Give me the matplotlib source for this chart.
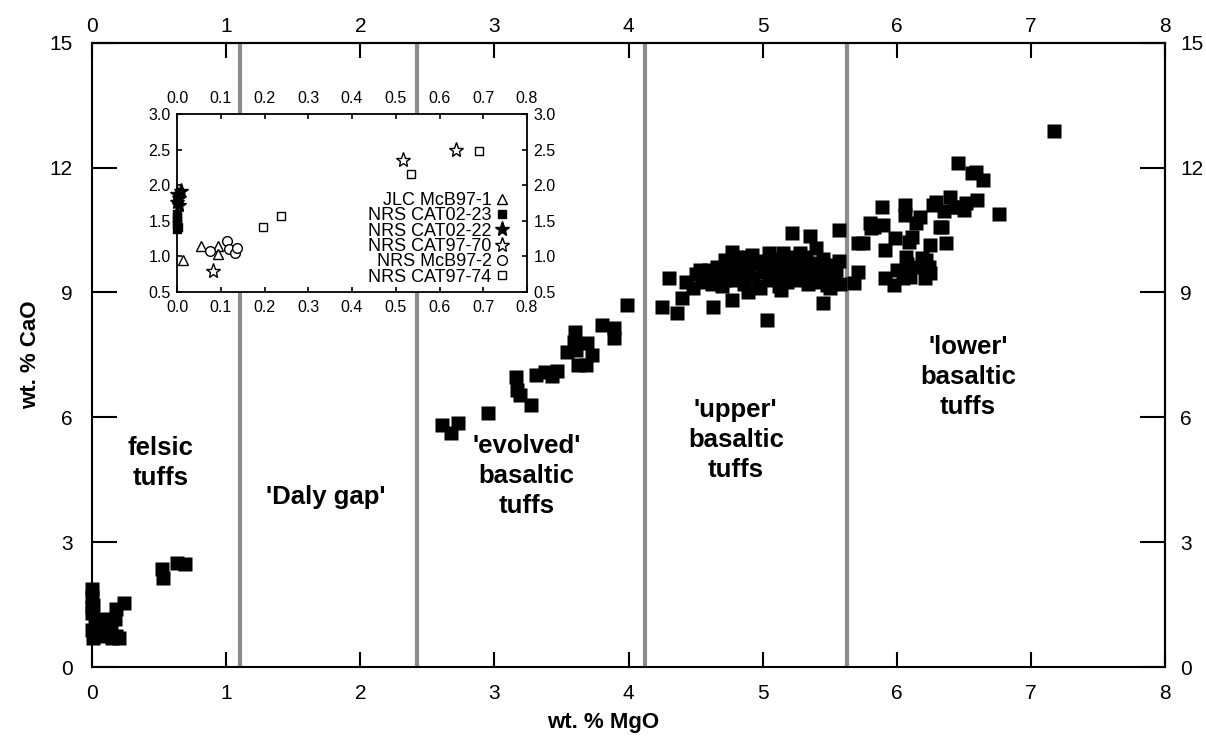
import matplotlib
matplotlib.use("Agg")
import matplotlib.pyplot as plt

plt.rcParams['font.family'] = ['Liberation Sans', 'DejaVu Sans']

# ---------------- main data (wt.% MgO, wt.% CaO) ----------------
felsic_mgo = [0.00, 0.00, 0.01, 0.00, 0.02, 0.00, 0.01, 0.05, 0.08, 0.10, 0.12, 0.15, 0.18, 0.20,
              0.06, 0.03, 0.14, 0.17, 0.18, 0.235, 0.52, 0.53, 0.63, 0.69, 0.00, 0.09]
felsic_cao = [1.88, 1.70, 1.50, 1.30, 1.10, 0.90, 0.70, 0.80, 0.75, 1.00, 0.85, 0.70, 0.75, 0.70,
              1.10, 0.95, 0.95, 1.15, 1.39, 1.54, 2.35, 2.15, 2.51, 2.49, 1.45, 1.15]

evolved_mgo = [3.99, 3.80, 3.89, 3.89, 3.60, 3.59, 3.69, 3.54, 3.61, 3.73, 3.62, 3.68,
               3.16, 3.31, 3.38, 3.43, 3.47, 3.17, 3.19, 3.27, 2.95, 2.61, 2.73, 2.68]
evolved_cao = [8.70, 8.22, 8.14, 7.90, 8.05, 7.81, 7.78, 7.57, 7.61, 7.49, 7.25, 7.25,
               6.97, 7.03, 7.09, 6.99, 7.12, 6.65, 6.53, 6.29, 6.10, 5.81, 5.86, 5.62]

upper_mgo = [4.25, 4.30, 4.36, 4.40, 4.43, 4.48, 4.53, 4.58, 4.63, 4.66, 4.72, 4.72, 4.77, 4.77,
             4.89, 4.89, 5.03, 5.14, 5.15, 5.22, 5.35, 5.40, 5.45, 5.48, 5.57,
             4.50, 4.55, 4.60, 4.62, 4.68, 4.70, 4.75, 4.78, 4.82, 4.84, 4.86, 4.90, 4.93, 4.95,
             4.97, 5.00, 5.02, 5.05, 5.08, 5.10, 5.12, 5.16, 5.18, 5.20, 5.22, 5.25, 5.27, 5.30,
             5.32, 5.35, 5.38, 5.40, 5.42, 5.45, 5.48, 5.50, 5.53, 5.55, 5.57, 4.80, 4.92, 5.05,
             5.28, 4.65, 5.58, 5.50, 4.98, 5.12, 5.34]
upper_cao = [8.64, 9.34, 8.51, 8.86, 9.24, 9.10, 9.53, 9.37, 8.64, 9.61, 9.77, 9.30, 8.81, 9.97,
             9.85, 9.01, 8.35, 9.05, 9.94, 10.42, 10.35, 10.06, 8.74, 9.17, 10.50,
             9.45, 9.25, 9.55, 9.20, 9.45, 9.15, 9.55, 9.30, 9.65, 9.40, 9.20, 9.55, 9.35, 9.70,
             9.15, 9.50, 9.75, 9.30, 9.60, 9.80, 9.40, 9.65, 9.25, 9.85, 9.50, 9.70, 9.30, 9.60,
             9.85, 9.45, 9.70, 9.25, 9.55, 9.80, 9.45, 9.65, 9.35, 9.55, 9.75, 9.85, 9.90, 9.95,
             9.95, 9.35, 9.20, 9.10, 9.10, 9.15, 9.20]

lower_mgo = [7.17, 6.46, 6.56, 6.64, 6.59, 6.76, 5.89, 6.06, 6.06, 6.14, 6.29, 6.40, 6.43, 6.50,
             6.60, 6.34, 6.37, 5.81, 5.90, 5.75, 5.91, 5.99, 6.09, 6.07, 6.19, 6.25, 6.24, 6.21,
             5.91, 5.98, 6.05, 6.10, 5.71, 5.68, 5.71, 5.80, 5.83, 6.11, 6.22, 6.08, 6.25, 6.17,
             6.27, 6.32, 6.45, 6.52, 6.35, 6.00, 6.15]
lower_cao = [12.87, 12.10, 11.86, 11.71, 11.89, 10.88, 11.04, 11.09, 10.85, 10.66, 11.17, 11.29,
             11.05, 10.97, 11.21, 10.57, 10.19, 10.54, 10.61, 10.18, 10.01, 10.30, 10.21, 9.85,
             9.82, 10.13, 9.61, 9.34, 9.34, 9.17, 9.34, 9.37, 9.49, 9.23, 10.18, 10.66, 10.57,
             10.33, 9.77, 9.69, 9.46, 10.81, 11.09, 10.57, 11.05, 11.15, 10.95, 9.55, 9.60]

# region boundaries (wt.% MgO)
boundaries = [1.10, 2.42, 4.12, 5.63]

# region labels
region_text = ["felsic\ntuffs", "'Daly gap'", "'evolved'\nbasaltic\ntuffs",
               "'upper'\nbasaltic\ntuffs", "'lower'\nbasaltic\ntuffs"]
region_x = [0.51, 1.74, 3.24, 4.80, 6.53]
region_y = [4.90, 4.10, 4.59, 5.46, 6.97]

# ---------------- inset data ----------------
jlc_mcb97_1_x = [0.013, 0.054, 0.094, 0.093]
jlc_mcb97_1_y = [0.95, 1.15, 1.14, 1.03]
cat02_23_x = [0.000, 0.000, 0.000, 0.000, 0.000, 0.003]
cat02_23_y = [1.38, 1.45, 1.50, 1.55, 1.60, 1.42]
cat02_22_x = [0.000, 0.004, 0.000, 0.008, 0.004]
cat02_22_y = [1.76, 1.82, 1.88, 1.92, 1.72]
cat97_70_x = [0.083, 0.517, 0.638]
cat97_70_y = [0.80, 2.36, 2.49]
mcb97_2_x = [0.076, 0.114, 0.118, 0.133, 0.138]
mcb97_2_y = [1.08, 1.22, 1.11, 1.05, 1.12]
cat97_74_x = [0.197, 0.238, 0.534, 0.691]
cat97_74_y = [1.41, 1.57, 2.16, 2.48]

xticks_main = [0, 1, 2, 3, 4, 5, 6, 7, 8]
yticks_main = [0, 3, 6, 9, 12, 15]
xticks_inset = [0.0, 0.1, 0.2, 0.3, 0.4, 0.5, 0.6, 0.7, 0.8]
yticks_inset = [0.5, 1.0, 1.5, 2.0, 2.5, 3.0]

# ---------------- figure ----------------
fig = plt.figure(figsize=(12.06, 7.40), dpi=100)
ax = fig.add_axes([0.0763, 0.0982, 0.8897, 0.8443])
ax.set_xlim(0, 8)
ax.set_ylim(0, 15)

for b in boundaries:
    ax.axvline(b, ymin=0.005, ymax=1.0, color='#8c8c8c', lw=3.0, zorder=1)

sq = dict(marker='s', ms=10.2, mec='none', mfc='black', ls='none', clip_on=False, zorder=3)
ax.plot(felsic_mgo, felsic_cao, **sq)
ax.plot(evolved_mgo, evolved_cao, **sq)
ax.plot(upper_mgo, upper_cao, **sq)
ax.plot(lower_mgo, lower_cao, **sq)

for t, x, y in zip(region_text, region_x, region_y):
    ax.text(x, y, t, ha='center', va='center', fontsize=18.5, fontweight='bold',
            linespacing=1.32)

for s in ax.spines.values():
    s.set_linewidth(1.5)

ax.set_xticks(xticks_main)
ax.set_yticks(yticks_main)
ax.tick_params(axis='x', direction='in', length=11, width=1.5, labelsize=15, pad=12)
ax.tick_params(axis='y', direction='in', length=18, width=1.5, labelsize=15, pad=14)
ax.set_xlabel('wt. % MgO', fontsize=16, fontweight='bold')
ax.xaxis.set_label_coords(0.476, -0.072)
ax.set_ylabel('wt. % CaO', fontsize=16, fontweight='bold', labelpad=6)

secx = ax.secondary_xaxis('top')
secx.set_xticks(xticks_main)
secx.tick_params(direction='in', length=11, width=1.5, labelsize=15, pad=5)
secx.spines['top'].set_linewidth(1.5)
secy = ax.secondary_yaxis('right')
secy.set_yticks(yticks_main)
secy.tick_params(direction='in', length=18, width=1.5, labelsize=15, pad=11)
secy.spines['right'].set_linewidth(1.5)

# ---------------- inset ----------------
ins = fig.add_axes([0.1468, 0.6054, 0.2902, 0.2405])
ins.set_facecolor('white')
ins.set_xlim(0, 0.8)
ins.set_ylim(0.5, 3.0)
ins.set_xticks(xticks_inset)
ins.set_yticks(yticks_inset)
ins.set_xticklabels([f"{v:.1f}" for v in xticks_inset])
ins.set_yticklabels([f"{v:.1f}" for v in yticks_inset])
ins.tick_params(direction='in', length=3.5, width=1.2, labelsize=11.5,
                top=True, right=True, labeltop=True, labelright=True)
ins.tick_params(axis='x', pad=5.5)
ins.tick_params(axis='y', pad=4.5)
for s in ins.spines.values():
    s.set_linewidth(1.3)

mk = dict(ls='none', clip_on=False, mew=1.0, mec='black', zorder=3)
ins.plot(jlc_mcb97_1_x, jlc_mcb97_1_y, marker='^', ms=7, mfc='white', label='JLC McB97-1', **mk)
ins.plot(cat02_23_x, cat02_23_y, marker='s', ms=6, mfc='black', label='NRS CAT02-23', **mk)
ins.plot(cat02_22_x, cat02_22_y, marker='*', ms=11, mfc='black', label='NRS CAT02-22', **mk)
ins.plot(cat97_70_x, cat97_70_y, marker='*', ms=11, mfc='white', label='NRS CAT97-70', **mk)
ins.plot(mcb97_2_x, mcb97_2_y, marker='o', ms=7, mfc='white', label='NRS McB97-2', **mk)
ins.plot(cat97_74_x, cat97_74_y, marker='s', ms=6, mfc='white', label='NRS CAT97-74', **mk)

ins.legend(loc='lower right', bbox_to_anchor=(0.945, 0.035), frameon=False,
           markerfirst=False, fontsize=13, handlelength=0.6, handletextpad=0.3,
           labelspacing=-0.09, borderaxespad=0.0, borderpad=0.0)

fig.savefig('out.png', dpi=100)
